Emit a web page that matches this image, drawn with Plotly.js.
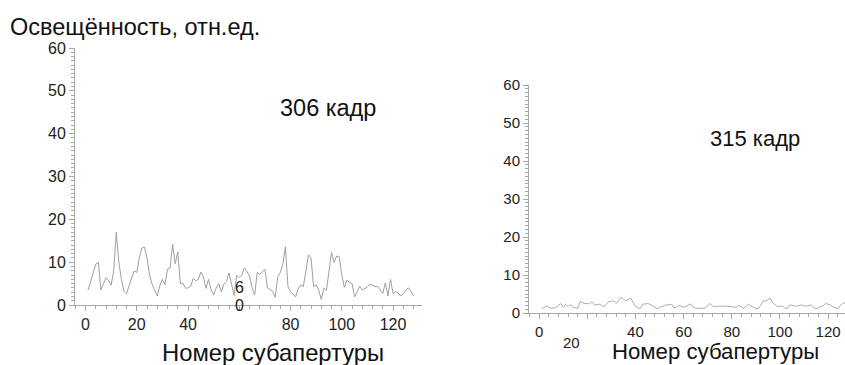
<!DOCTYPE html>
<html>
<head>
<meta charset="utf-8">
<script src="https://cdn.plot.ly/plotly-3.0.1.min.js"></script>
<style>html,body{margin:0;padding:0;background:#fff;}#chart{width:845px;height:365px;}</style>
</head>
<body>
<div id="chart"></div>
<script>
// Subaperture numbers
const subapertures = Array.from({length: 128}, (_, i) => i + 1);

// Frame 306 illumination (relative units)
const frame306 = [
  3.5, 5.5, 7.5, 9.5, 10, 3.5, 5, 6.3, 5.8, 4.6,
  8, 17, 10, 6, 3.2, 2.6, 4.5, 6.5, 8, 7.6,
  11, 13.3, 13.5, 11, 7, 4.8, 3.6, 2.1, 4.5, 6,
  4.8, 8.4, 8.6, 14.2, 9.6, 12.4, 5, 5.1, 3.9, 4,
  4.3, 6.2, 5.7, 5.9, 7.7, 6.6, 3.9, 6, 3.6, 2.3,
  4, 5, 3.1, 4.9, 5.5, 7.5, 4.8, 2.2, 7, 6.4,
  7, 8.7, 7.8, 6.8, 4, 2.3, 7.6, 7.2, 7.8, 8.3,
  4, 3.5, 3.2, 1.8, 6.5, 7.6, 9.5, 13.6, 4.3, 3.1,
  2.6, 1.9, 3.8, 4.7, 4.3, 8.5, 11.7, 11, 4.3, 4.7,
  3.5, 1.3, 3.9, 3.4, 8, 12.3, 9.9, 11.4, 11.3, 7,
  4.1, 5.8, 5.3, 5, 1.9, 3.3, 4.4, 3.5, 3.8, 4.2,
  4.9, 4.5, 4.3, 4.3, 3.6, 2.7, 5.2, 2.1, 6, 2.7,
  3.1, 2.8, 2.1, 2.6, 3.5, 4, 3.2, 2.1
];

// Frame 315 illumination (relative units)
const frame315 = [
  1.2, 1.4, 1.9, 1.5, 1.2, 1.3, 1.4, 2, 2.5, 1.5,
  2.3, 1.7, 2.3, 1.5, 1.3, 1.2, 3, 2.7, 2.5, 2.5,
  2.4, 3, 2.1, 2.2, 2.3, 2, 1.7, 2.4, 3, 3.1,
  3.2, 2.5, 3.2, 4.1, 3.7, 3.2, 3.6, 3.9, 2.8, 1.7,
  1.4, 1.2, 2.3, 2.5, 2.5, 2.3, 1.9, 1.5, 1.1, 1.4,
  1.8, 2, 2.1, 2.2, 2.3, 1.3, 1.5, 2, 1.8, 1.5,
  1.8, 2.1, 2.4, 1.6, 1.2, 1.2, 1.2, 1.2, 1.3, 2,
  2.5, 1.8, 1.7, 1.8, 1.9, 1.8, 1.8, 1.8, 1.7, 1.7,
  1.5, 1.5, 2, 1.7, 1.2, 1.9, 2.3, 1.8, 1.4, 1.2,
  1.2, 2, 3.2, 3.2, 3.5, 3.9, 2.7, 2.2, 1.7, 1.8,
  1.8, 1.3, 1.2, 2.1, 2, 1.9, 1.8, 2, 2.1, 1.9,
  1.8, 2, 2.1, 1.4, 1.2, 1.3, 1.6, 2, 2.5, 2.3,
  2.1, 1.6, 1.4, 1.2, 2, 2.5, 2.7, 2.6
];

// Tick labels
const yTicks = [0, 10, 20, 30, 40, 50, 60];
const xTicksLeft = [0, 20, 40, 60, 80, 100, 120];
const xTickTextLeft = ['0', '20', '40', '', '80', '100', '120'];
const xTicksRight = [0, 20, 40, 60, 80, 100, 120];
const xTickTextRight = ['0', '', '40', '60', '80', '100', '120'];

const yTitle = 'Освещённость, отн.ед.';
const xTitle = 'Номер субапертуры';
const label306 = '306 кадр';
const label315 = '315 кадр';

const W = 845, H = 365;
const px = v => v / W;
const py = v => (H - v) / H;

const FONT = 'Liberation Sans, Arial, sans-serif';
const axisColor = '#a6a6a6';

function axisCommon(extra) {
  return Object.assign({
    showgrid: false,
    zeroline: false,
    showline: true,
    linecolor: axisColor,
    linewidth: 1,
    ticks: 'outside',
    ticklen: 5,
    tickwidth: 1,
    tickcolor: axisColor,
    tickfont: {family: FONT, size: 16, color: '#222'},
    fixedrange: true
  }, extra);
}

const traces = [
  {x: subapertures, y: frame306, xaxis: 'x', yaxis: 'y', type: 'scatter', mode: 'lines',
   line: {color: '#a0a0a0', width: 1}, hoverinfo: 'skip'},
  {x: subapertures, y: frame315, xaxis: 'x2', yaxis: 'y2', type: 'scatter', mode: 'lines',
   line: {color: '#acacac', width: 1}, hoverinfo: 'skip'}
];

const layout = {
  width: W, height: H,
  margin: {l: 0, r: 0, t: 0, b: 0},
  paper_bgcolor: '#fff', plot_bgcolor: '#fff',
  showlegend: false,
  xaxis: axisCommon({domain: [px(75), px(422)], range: [-4.1, 131.3], anchor: 'y',
    tickmode: 'array', tickvals: xTicksLeft, ticktext: xTickTextLeft,
    minor: {dtick: 4, tick0: 0, ticks: 'outside', ticklen: 3, tickcolor: axisColor, showgrid: false}}),
  yaxis: axisCommon({domain: [py(305), py(48)], range: [0, 60], anchor: 'x',
    tickmode: 'array', tickvals: yTicks,
    minor: {dtick: 1, tick0: 0, ticks: 'outside', ticklen: 3, tickcolor: axisColor, showgrid: false}}),
  xaxis2: axisCommon({domain: [px(529), 1], range: [-4.2, 127], anchor: 'y2',
    tickmode: 'array', tickvals: xTicksRight, ticktext: xTickTextRight,
    tickfont: {family: FONT, size: 15, color: '#222'},
    minor: {dtick: 4, tick0: 0, ticks: 'outside', ticklen: 3, tickcolor: axisColor, showgrid: false}}),
  yaxis2: axisCommon({domain: [py(313), py(85)], range: [0, 60], anchor: 'x2',
    tickmode: 'array', tickvals: yTicks,
    tickfont: {family: FONT, size: 15, color: '#222'},
    minor: {dtick: 1, tick0: 0, ticks: 'outside', ticklen: 3, tickcolor: axisColor, showgrid: false}}),
  annotations: [
    {text: yTitle, xref: 'paper', yref: 'paper', x: px(8), y: py(27), xanchor: 'left', yanchor: 'middle',
     showarrow: false, font: {family: FONT, size: 23.5, color: '#111'}},
    {text: label306, xref: 'paper', yref: 'paper', x: px(328), y: py(108), xanchor: 'center', yanchor: 'middle',
     showarrow: false, font: {family: FONT, size: 23.5, color: '#111'}},
    {text: label315, xref: 'paper', yref: 'paper', x: px(755), y: py(138), xanchor: 'center', yanchor: 'middle',
     showarrow: false, font: {family: FONT, size: 22, color: '#111'}},
    {text: xTitle, xref: 'paper', yref: 'paper', x: px(273), y: py(352), xanchor: 'center', yanchor: 'middle',
     showarrow: false, font: {family: FONT, size: 23.8, color: '#111'}},
    {text: xTitle, xref: 'paper', yref: 'paper', x: px(715), y: py(351), xanchor: 'center', yanchor: 'middle',
     showarrow: false, font: {family: FONT, size: 22.2, color: '#111'}},
    // displaced tick label "60" on left axis, drawn as stacked "6" and "0"
    {text: '6', xref: 'x', yref: 'paper', x: 60, y: py(287), xanchor: 'center', yanchor: 'middle',
     showarrow: false, font: {family: FONT, size: 16, color: '#222'}},
    {text: '0', xref: 'x', yref: 'paper', x: 60, y: py(305), xanchor: 'center', yanchor: 'middle',
     showarrow: false, font: {family: FONT, size: 16, color: '#222'}},
    // displaced tick label "20" on right axis
    {text: '20', xref: 'paper', yref: 'paper', x: px(571), y: py(342), xanchor: 'center', yanchor: 'middle',
     showarrow: false, font: {family: FONT, size: 15, color: '#222'}}
  ]
};

Plotly.newPlot('chart', traces, layout, {staticPlot: true, displayModeBar: false});
</script>
</body>
</html>
